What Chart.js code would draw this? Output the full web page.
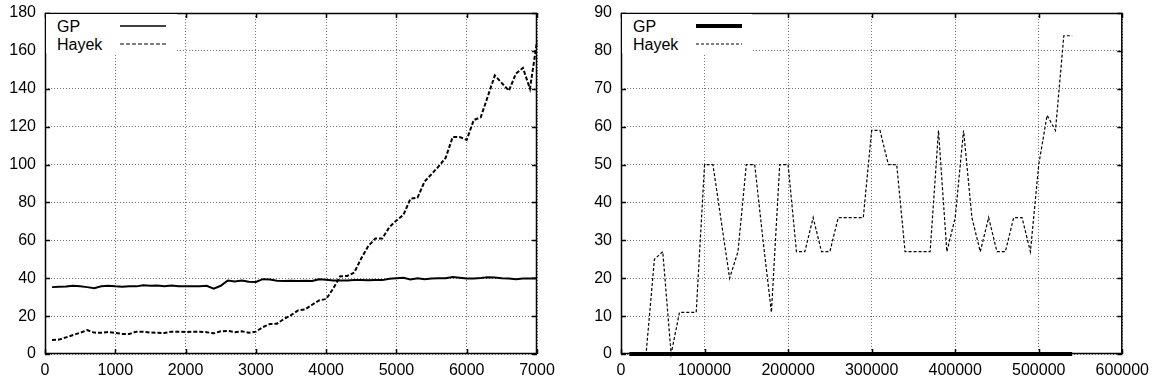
<!DOCTYPE html>
<html>
<head>
<meta charset="utf-8">
<script src="https://cdn.jsdelivr.net/npm/chart.js@4.4.1/dist/chart.umd.min.js"></script>
<style>
  body { margin: 0; background: #fff; }
  #wrap { position: relative; width: 1156px; height: 386px; overflow: hidden; }
  .panel { position: absolute; top: 0; width: 578px; height: 386px; }
  .legend { position: absolute; background: #fff; }
  .legend svg { display: block; }
</style>
</head>
<body>
<div id="wrap">
  <div class="panel" style="left:0"><canvas id="leftCanvas" width="578" height="386"></canvas><div class="legend" id="leftLegend" style="left:46px;top:14px"></div></div>
  <div class="panel" style="left:578px"><canvas id="rightCanvas" width="578" height="386"></canvas><div class="legend" id="rightLegend" style="left:44px;top:14px"></div></div>
</div>
<script>
// === données ===
// graphe de gauche : x = 100..7000 par pas de 100
const LEFT_X = [100,200,300,400,500,600,700,800,900,1000,1100,1200,1300,1400,1500,1600,1700,1800,1900,2000,
  2100,2200,2300,2400,2500,2600,2700,2800,2900,3000,3100,3200,3300,3400,3500,3600,3700,3800,3900,4000,
  4100,4200,4300,4400,4500,4600,4700,4800,4900,5000,5100,5200,5300,5400,5500,5600,5700,5800,5900,6000,
  6100,6200,6300,6400,6500,6600,6700,6800,6900,7000];
const LEFT_GP = [35.3,35.5,35.6,36,35.7,35.3,34.7,35.8,36,35.7,35.5,35.8,35.7,36.3,36,36.2,35.8,36.2,35.8,35.8,
  35.8,35.7,36,34.5,36,38.8,38.3,38.8,38.2,38,39.5,39.3,38.7,38.5,38.7,38.5,38.7,38.5,39.5,39.2,
  38.8,38.8,38.8,39,39,38.9,39,39,39.7,40,40.2,39.3,40,39.5,39.8,40,40,40.6,40.2,39.8,
  39.8,40.1,40.5,40.4,40,39.8,39.5,39.8,39.9,40];
const LEFT_HAYEK = [7.4,7.6,8.8,10,11.2,12.6,11.3,11.2,11.6,11.2,10.6,10.6,11.8,11.8,11.3,11.2,11.1,11.8,11.8,11.6,
  11.8,11.8,11.5,10.9,12,12.2,11.5,12,11.2,11.8,14.2,15.8,16,18.5,20.5,23,23.5,26,28.3,29,
  34.5,41,41.2,43,50.5,57,61,61,67,70.5,73.5,82,82.5,91,95,99,103.5,114.5,114.5,113,
  123.5,125,136,147,143,139,148,151,140,165];
const LEFT_X_TICKS = [0,1000,2000,3000,4000,5000,6000,7000];
const LEFT_Y_TICKS = [0,20,40,60,80,100,120,140,160,180];

// graphe de droite : x = 10000..540000 par pas de 10000
const RIGHT_X = [10000,20000,30000,40000,50000,60000,70000,80000,90000,100000,110000,120000,130000,140000,150000,
  160000,170000,180000,190000,200000,210000,220000,230000,240000,250000,260000,270000,280000,290000,300000,
  310000,320000,330000,340000,350000,360000,370000,380000,390000,400000,410000,420000,430000,440000,450000,
  460000,470000,480000,490000,500000,510000,520000,530000,540000];
const RIGHT_GP = RIGHT_X.map(() => 0);
const RIGHT_HAYEK = [0,0,0,25,27,0,11,11,11,50,50,35,20,27,50,
  50,30,11,50,50,27,27,36,27,27,36,36,36,36,59,
  59,50,50,27,27,27,27,59,27,36,59,36,27,36,27,
  27,36,36,27,50,63,59,84,84];
const RIGHT_X_TICKS = [0,100000,200000,300000,400000,500000,600000];
const RIGHT_Y_TICKS = [0,10,20,30,40,50,60,70,80,90];

const FONT = "'Liberation Sans', Arial, sans-serif";
const GRID_COLOR = 'rgba(0,0,0,0.55)';

// cadre noir + petites graduations internes (style gnuplot)
const framePlugin = {
  id: 'frame',
  beforeDatasetsDraw(chart) {
    const { ctx, chartArea: a, scales } = chart;
    ctx.save();
    ctx.setLineDash([]);
    ctx.strokeStyle = '#000';
    ctx.lineWidth = 1.5;
    ctx.strokeRect(a.left + 0.5, a.top + 0.5, a.right - a.left - 1, a.bottom - a.top - 1);
    ctx.beginPath();
    scales.x.ticks.forEach(t => {
      const px = Math.round(scales.x.getPixelForValue(t.value)) + 0.5;
      ctx.moveTo(px, a.bottom); ctx.lineTo(px, a.bottom - 5);
      ctx.moveTo(px, a.top); ctx.lineTo(px, a.top + 5);
    });
    scales.y.ticks.forEach(t => {
      const py = Math.round(scales.y.getPixelForValue(t.value)) + 0.5;
      ctx.moveTo(a.left, py); ctx.lineTo(a.left + 5, py);
      ctx.moveTo(a.right, py); ctx.lineTo(a.right - 5, py);
    });
    ctx.stroke();
    ctx.restore();
  }
};

function makeChart(canvasId, cfg) {
  const ctx = document.getElementById(canvasId).getContext('2d');
  return new Chart(ctx, {
    type: 'line',
    data: {
      datasets: cfg.series.map(s => ({
        label: s.label,
        data: cfg.xs.map((x, i) => ({ x: x, y: s.values[i] })),
        borderColor: '#000',
        borderWidth: s.width,
        borderDash: s.dash,
        pointRadius: 0,
        tension: 0,
        fill: false,
        clip: 4, // sinon la moitié du trait épais sur y=0 est coupée
        order: s.order
      }))
    },
    options: {
      responsive: false,
      animation: false,
      events: [],
      layout: { padding: { top: 13, right: cfg.padRight, left: 0, bottom: 0 } },
      plugins: { legend: { display: false }, tooltip: { enabled: false } },
      scales: {
        x: {
          type: 'linear', min: cfg.xTicks[0], max: cfg.xTicks[cfg.xTicks.length - 1],
          afterBuildTicks: s => { s.ticks = cfg.xTicks.map(v => ({ value: v })); },
          afterFit: s => { s.height = 32; },
          ticks: { color: '#000', font: { family: FONT, size: 16 }, padding: 7, maxRotation: 0, autoSkip: false,
                   callback: v => String(v) },
          grid: { color: GRID_COLOR, drawTicks: false },
          border: { display: false, dash: [1, 2] }
        },
        y: {
          type: 'linear', min: cfg.yTicks[0], max: cfg.yTicks[cfg.yTicks.length - 1],
          afterBuildTicks: s => { s.ticks = cfg.yTicks.map(v => ({ value: v })); },
          // largeur fixe + pas de marge auto en haut
          afterFit: s => { s.width = cfg.axisLeft; s.paddingTop = 0; s.paddingBottom = 0; },
          ticks: { color: '#000', font: { family: FONT, size: 16 }, padding: 9, autoSkip: false,
                   callback: v => String(v) },
          grid: { color: GRID_COLOR, drawTicks: false },
          border: { display: false, dash: [1, 2] }
        }
      }
    },
    plugins: [framePlugin]
  });
}

// légende en haut à gauche, fond blanc
function buildLegend(id, series, width) {
  const el = document.getElementById(id);
  const ns = 'http://www.w3.org/2000/svg';
  const svg = document.createElementNS(ns, 'svg');
  svg.setAttribute('width', width);
  svg.setAttribute('height', 39);
  series.forEach((s, i) => {
    const y = 12 + i * 18;
    const txt = document.createElementNS(ns, 'text');
    txt.setAttribute('x', 11);
    txt.setAttribute('y', y + 6);
    txt.setAttribute('font-family', FONT);
    txt.setAttribute('font-size', 16);
    txt.textContent = s.label;
    svg.appendChild(txt);
    const ln = document.createElementNS(ns, 'line');
    ln.setAttribute('x1', 74); ln.setAttribute('x2', 120);
    ln.setAttribute('y1', y); ln.setAttribute('y2', y);
    ln.setAttribute('stroke', '#000');
    ln.setAttribute('stroke-width', s.legendWidth);
    if (s.dash.length) ln.setAttribute('stroke-dasharray', s.dash.join(' '));
    svg.appendChild(ln);
  });
  el.appendChild(svg);
}

const leftSeries = [
  { label: 'GP', values: LEFT_GP, width: 2, dash: [], legendWidth: 1.5, order: 1 },
  { label: 'Hayek', values: LEFT_HAYEK, width: 2, dash: [4, 2], legendWidth: 1, order: 0 }
];
const rightSeries = [
  { label: 'GP', values: RIGHT_GP, width: 4, dash: [], legendWidth: 4, order: 0 },
  { label: 'Hayek', values: RIGHT_HAYEK, width: 1.2, dash: [3, 2], legendWidth: 1, order: 1 }
];

makeChart('leftCanvas', { xs: LEFT_X, series: leftSeries, xTicks: LEFT_X_TICKS, yTicks: LEFT_Y_TICKS, axisLeft: 45, padRight: 41 });
makeChart('rightCanvas', { xs: RIGHT_X, series: rightSeries, xTicks: RIGHT_X_TICKS, yTicks: RIGHT_Y_TICKS, axisLeft: 43, padRight: 33 });
buildLegend('leftLegend', leftSeries, 131);
buildLegend('rightLegend', rightSeries, 130);
</script>
</body>
</html>
